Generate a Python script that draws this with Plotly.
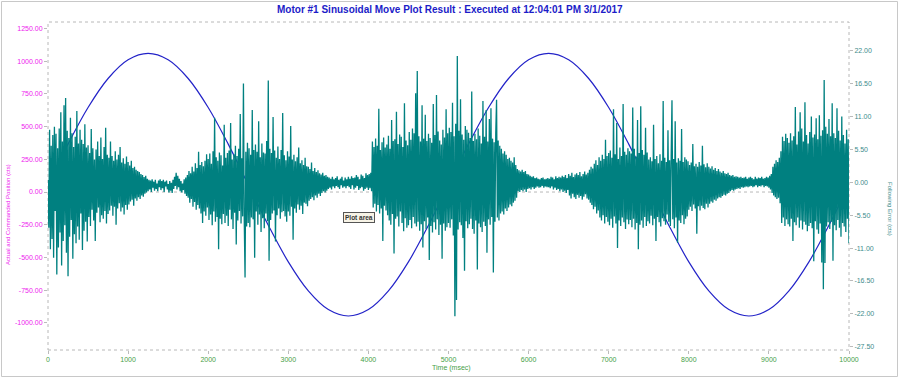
import numpy as np
import plotly.graph_objects as go

# Commanded / actual position (cts), sampled every 250 ms
pos_time = [0, 250, 500, 750, 1000, 1250, 1500, 1750, 2000, 2250, 2500, 2750, 3000, 3250, 3500,
            3750, 4000, 4250, 4500, 4750, 5000, 5250, 5500, 5750, 6000, 6250, 6500, 6750, 7000,
            7250, 7500, 7750, 8000, 8250, 8500, 8750, 9000, 9250, 9500, 9750, 10000]
position = [56, 366, 646, 868, 1011, 1060, 1011, 868, 646, 366, 56, -254, -534, -756, -899,
            -948, -899, -756, -534, -254, 56, 366, 646, 868, 1011, 1060, 1011, 868, 646,
            366, 56, -254, -534, -756, -899, -948, -899, -756, -534, -254, 56]

# Following error (cts), sampled every 10 ms (one row = 250 ms)
following_error = [
    0.4, -7.6, 8.8, -11.2, 6.1, -9.5, 7.9, -12.6, 9.3, -4.8, 8.1, -15.4, 5.7, -10.9, 9.0, -8.4, 11.7, -13.9, 6.8, -9.8, 12.9, -7.2, 14.1, -11.8, 8.6,
    -15.7, 7.4, -9.1, 10.8, -6.3, 8.2, -12.8, 5.9, -8.7, 7.6, -10.2, 11.9, -7.4, 6.5, -9.6, 8.8, -5.2, 7.1, -11.3, 6.4, -8.1, 9.7, -6.6, 5.8, -9.9,
    6.2, -5.8, 4.9, -7.3, 8.9, -4.6, 5.7, -6.4, 3.8, -9.8, 5.5, -5.1, 6.8, -4.2, 4.4, -6.7, 7.5, -5.5, 3.9, -6.1, 5.9, -4.8, 9.1, -6.9, 4.6,
    -5.3, 4.1, -4.7, 6.8, -3.9, 4.4, -5.6, 3.6, -4.1, 5.2, -7.1, 3.8, -4.4, 4.6, -3.5, 5.9, -4.9, 3.3, -4.2, 4.0, -5.4, 3.1, -3.8, 4.3, -4.6,
    3.4, -3.7, 2.8, -3.2, 3.6, -2.9, 2.4, -3.9, 2.6, -2.7, 2.1, -3.1, 1.9, -2.5, 1.7, -2.8, 1.4, -2.2, 1.2, -2.4, 0.9, -1.9, 1.1, -1.7, 0.6,
    -1.5, 0.4, -1.2, 0.3, -1.6, 0.5, -0.9, 0.1, -1.4, 0.4, -1.1, -0.2, -1.5, 0.3, -0.8, 0.5, -1.3, 0.2, -1.0, 0.4, -1.6, 0.1, -0.7, 0.3, -1.2,
    -0.3, -1.7, 0.2, -1.4, -0.1, -1.8, 0.4, -1.1, 0.9, -0.6, 1.6, -1.2, 1.1, -0.8, 0.6, -1.5, 0.2, -1.7, -0.2, -1.3, 0.5, -1.9, 0.8, -2.3, 1.2,
    -2.6, 1.9, -3.4, 1.5, -2.8, 2.6, -4.1, 1.8, -3.3, 3.2, -4.6, 2.4, -3.8, 5.1, -4.4, 2.9, -5.2, 3.4, -6.8, 2.7, -4.9, 3.6, -5.6, 4.7, -4.2,
    3.9, -6.3, 4.8, -5.4, 3.1, -7.2, 5.2, -4.9, 10.8, -6.6, 4.2, -5.8, 3.6, -11.2, 5.0, -6.1, 4.5, -7.0, 2.8, -5.3, 9.6, -6.8, 4.1, -5.6, 4.9,
    -7.3, 5.3, -4.6, 9.9, -6.2, 3.8, -7.8, 4.7, -5.1, 6.1, -10.4, 4.4, -6.4, 5.6, -4.8, 11.4, -6.9, 4.0, -5.7, 16.5, -6.3, -15.9, 5.1, -7.4, 6.6,
    -6.8, 5.7, -7.5, 4.6, -5.9, 12.1, -6.2, 5.4, -12.6, 6.3, -4.9, 5.1, -7.1, 10.2, -5.4, 4.2, -8.3, 6.5, -6.0, 5.0, -7.7, 4.8, -5.2, 6.9, -6.5,
    17.0, -13.1, 5.6, -6.3, 4.9, -5.2, 10.9, -4.7, 5.3, -9.9, 4.1, -5.5, 6.0, -4.4, 3.9, -6.1, 5.4, -5.0, 11.6, -4.8, 4.5, -5.7, 3.7, -6.6, 5.2,
    -4.9, 4.3, -5.6, 9.4, -4.1, 3.8, -9.6, 4.6, -4.4, 3.5, -5.1, 4.2, -3.7, 5.8, -4.6, 3.2, -3.9, 3.7, -5.3, 2.9, -3.4, 4.1, -3.6, 2.7, -4.0,
    2.6, -3.1, 2.2, -2.8, 3.3, -2.5, 1.9, -3.0, 2.4, -2.2, 1.7, -2.6, 2.0, -1.9, 1.5, -2.3, 1.3, -1.8, 1.6, -1.5, 1.1, -1.7, 1.2, -1.4, 0.9,
    -1.1, 0.8, -0.9, 0.6, -1.2, 0.9, -0.7, 0.5, -1.0, 0.7, -0.6, 1.0, -0.8, 0.4, -1.1, 0.6, -0.5, 0.9, -0.9, 0.3, -0.7, 0.8, -1.0, 0.5, -0.6,
    0.9, -0.8, 0.6, -1.1, 1.0, -0.5, 0.7, -1.2, 0.8, -0.9, 1.2, -0.6, 0.9, -1.3, 0.5, -1.0, 1.3, -0.8, 1.1, -1.4, 0.7, -1.1, 1.5, -0.9, 1.2,
    -1.3, 1.4, -1.0, 1.6, -1.5, 6.8, -4.2, 5.9, -3.6, 7.3, -4.9, 6.1, -3.8, 12.3, -5.2, 5.4, -4.4, 6.7, -9.8, 7.5, -3.9, 5.8, -4.7, 6.3, -5.5,
    7.8, -6.4, 5.6, -7.1, 10.4, -5.3, 6.9, -11.9, 7.2, -6.1, 11.8, -5.7, 6.4, -7.4, 8.0, -4.9, 7.6, -6.8, 5.9, -8.2, 13.2, -6.0, 7.0, -7.6, 6.2,
    -7.2, 8.4, -6.3, 7.1, -7.7, 9.0, -5.8, 8.2, -6.9, 14.9, -7.4, 18.6, -6.6, 7.7, -8.1, 6.8, -7.0, 12.9, -10.9, 7.3, -6.5, 11.3, -7.8, 6.9, -5.9,
    8.1, -13.0, 7.4, -7.3, 6.6, -8.4, 13.1, -6.7, 7.9, -7.9, 14.6, -6.2, 8.5, -8.8, 7.0, -7.1, 6.3, -12.8, 8.8, -6.9, 7.5, -8.1, 12.2, -7.5, 8.2,
    -6.8, 9.1, -7.6, 8.4, -6.2, 13.3, -8.9, 7.7, -22.4, 9.8, -19.7, 21.1, -7.9, 8.6, -6.7, 13.9, -7.2, 8.0, -9.3, 7.1, -14.8, 9.4, -6.5, 8.8, -7.7,
    8.3, -7.0, 7.4, -6.1, 15.2, -7.8, 6.9, -8.6, 8.1, -6.4, 7.2, -14.6, 9.0, -6.9, 7.8, -7.5, 6.5, -8.3, 13.6, -6.6, 7.6, -7.3, 12.1, -11.8, 6.8,
    -6.2, 10.6, -7.1, 12.4, -5.8, 7.3, -15.1, 6.7, -6.6, 8.2, 13.8, -5.9, 7.0, -6.4, 6.1, -5.2, 5.6, -4.9, 4.8, -5.4, 5.2, -4.4, 4.6, -4.8, 3.9,
    -4.2, 4.1, -3.7, 3.6, -4.0, 3.3, -3.4, 4.2, -3.1, 2.9, -2.6, 2.2, -1.5, 2.0, -1.6, 1.8, -1.3, 2.1, -1.5, 1.7, -1.2, 1.9, -1.6, 1.4, -1.1,
    1.3, -1.0, 1.1, -1.2, 0.9, -0.8, 1.0, -1.1, 0.7, -0.9, 0.8, -0.7, 0.6, -0.9, 0.5, -0.8, 0.7, -0.6, 0.8, -0.9, 0.5, -0.7, 0.6, -0.8, 0.7,
    -0.8, 0.6, -1.0, 0.9, -0.7, 0.8, -1.2, 0.5, -0.9, 1.0, -1.3, 0.7, -1.1, 0.9, -1.5, 0.8, -1.2, 1.1, -1.6, 0.9, -1.4, 1.2, -1.8, 0.7, -1.3,
    1.4, -2.2, 1.1, -2.7, 1.6, -1.9, 0.9, -2.5, 1.3, -2.8, 1.5, -2.1, 1.2, -2.6, 1.7, -2.3, 1.0, -2.9, 1.4, -2.4, 1.8, -2.0, 1.3, -2.7, 1.6,
    -2.9, 2.1, -3.4, 2.6, -3.8, 2.3, -4.5, 3.1, -4.1, 3.7, -5.2, 2.9, -4.7, 4.2, -5.9, 3.6, -6.4, 4.6, -5.5, 3.9, -6.9, 7.1, -5.8, 4.4, -6.6,
    4.9, -7.2, 5.3, -6.1, 4.1, -7.6, 12.2, -5.7, 4.7, -6.9, 9.9, -11.0, 3.9, -6.4, 5.8, -7.3, 4.4, -5.9, 13.1, -6.7, 5.1, -7.8, 4.6, -6.2, 5.7,
    -7.0, 5.2, -6.3, 4.8, -7.5, 12.5, -6.1, 5.6, -7.9, 4.3, -6.8, 10.4, -11.2, 4.9, -7.1, 12.7, -6.4, 5.4, -7.6, 4.6, -5.8, 9.1, -7.3, 5.0, -6.5,
    3.8, -6.9, 4.2, -5.6, 3.5, -7.2, 9.6, -6.1, 3.9, -9.8, 4.4, -5.8, 3.2, -6.7, 4.7, -7.4, 3.6, -6.0, 13.6, -6.5, 4.1, -7.1, 3.4, -5.4, 8.7,
    -6.6, 3.7, -7.3, 4.3, 13.7, -6.2, 3.9, -7.7, 10.2, -5.9, 3.3, -10.1, 4.0, -6.4, 3.6, -6.8, 8.9, -5.5, 3.4, -7.0, 4.2, -6.1, 3.8, -5.7, 3.5,
    -4.6, 2.9, -4.1, 3.3, -4.8, 6.4, -3.7, 2.7, -4.4, 3.1, -8.6, 2.6, -4.0, 3.4, -4.7, 2.8, -3.9, 6.1, -4.3, 3.0, -4.5, 2.5, -3.6, 3.2, -4.2,
    2.6, -3.6, 2.3, -3.2, 2.7, -3.4, 2.1, -2.9, 2.4, -3.1, 1.9, -2.7, 2.2, -2.5, 1.8, -2.6, 1.6, -2.3, 1.9, -2.1, 1.5, -2.2, 1.4, -1.9, 1.6,
    -1.8, 1.2, -1.5, 1.1, -1.3, 1.2, -1.4, 0.9, -1.2, 1.0, -1.1, 0.9, -1.0, 0.8, -1.1, 0.9, -0.8, 0.7, -0.9, 0.8, -0.8, 0.9, -0.7, 0.6, -0.8,
    0.8, -0.7, 0.9, -0.6, 0.7, -0.8, 0.5, -0.7, 0.9, -0.5, 0.6, -0.8, 0.8, -0.6, 0.7, -0.7, 0.9, -0.5, 0.6, -0.8, 0.7, -0.6, 0.9, -0.7, 0.8,
    -0.9, 1.1, -1.2, 1.4, -1.8, 2.6, -2.2, 3.1, -2.5, 3.7, -2.8, 3.4, -2.6, 4.1, -3.5, 5.2, -6.8, 7.6, -5.9, 6.9, -7.3, 8.1, -6.2, 7.4, -7.0,
    6.6, -7.4, 8.2, -6.1, 7.0, -9.8, 7.7, -6.7, 12.6, -7.2, 6.3, -5.9, 8.5, -7.6, 11.7, -6.4, 9.0, -7.9, 6.8, -6.6, 13.4, -7.1, 7.9, -8.2, 6.5,
    -7.3, 8.4, -6.8, 11.0, -7.7, 7.5, -13.2, 8.0, -6.5, 10.7, -7.9, 7.2, -8.6, 11.2, -6.9, 7.8, -13.4, 8.7, -17.9, 17.1, -13.5, 9.3, -7.4, 8.1, -6.7,
    10.6, -7.8, 7.7, -6.6, 13.2, -13.1, 8.2, -7.2, 7.4, -8.0, 12.4, -6.3, 8.6, -7.6, 7.0, -9.1, 11.0, -6.8, 7.9, -7.4, 6.5, -8.3, 8.8, -6.1, 7.2,
    -10.2,
]
fe_time = np.linspace(0, 10000, len(following_error))

left_ticks = [-1000, -750, -500, -250, 0, 250, 500, 750, 1000, 1250]
right_ticks = [-27.5, -22, -16.5, -11, -5.5, 0, 5.5, 11, 16.5, 22]
x_ticks = [0, 1000, 2000, 3000, 4000, 5000, 6000, 7000, 8000, 9000, 10000]

title_text = "Motor #1 Sinusoidal Move Plot Result : Executed at 12:04:01 PM 3/1/2017"

FONT = "Liberation Sans, Arial, sans-serif"
MAGENTA = "#ee22ee"
TEAL_TXT = "#3e8c8c"
GREEN = "#46a046"

fig = go.Figure()
fig.add_trace(go.Scatter(x=pos_time, y=position, mode="lines", line=dict(color="#2323c8", width=1.2, shape="spline"),
                         name="Commanded Position", yaxis="y"))
fig.add_trace(go.Scatter(x=fe_time, y=following_error, mode="lines",
                         line=dict(color="#008080", width=1.3, simplify=False),
                         name="Following Error", yaxis="y2"))

L, R, T, B = 48, 53, 22, 28
W, H = 902, 378
pw, ph = W - L - R, H - T - B

def px(xp):
    return (xp - L) / pw

def py(yp):
    return (H - B - yp) / ph

fig.update_layout(
    width=W, height=H,
    margin=dict(l=L, r=R, t=T, b=B),
    paper_bgcolor="white", plot_bgcolor="white",
    showlegend=False,
    font=dict(family=FONT, size=7),
    xaxis=dict(range=[0, 10000], tickvals=x_ticks, ticktext=[str(v) for v in x_ticks],
               showgrid=False, zeroline=False, showline=False,
               ticks="outside", ticklen=3, tickcolor="#bbbbbb",
               tickfont=dict(color=GREEN, size=7, family=FONT)),
    yaxis=dict(range=[-1208, 1300], tickvals=left_ticks, ticktext=[f"{v:.2f}" for v in left_ticks],
               showgrid=False, zeroline=False, showline=False,
               ticks="outside", ticklen=3, tickcolor="#bbbbbb",
               tickfont=dict(color=MAGENTA, size=7, family=FONT)),
    yaxis2=dict(range=[-28.04, 26.8], tickvals=right_ticks, ticktext=[f"{v:.2f}" for v in right_ticks],
                overlaying="y", side="right",
                showgrid=False, zeroline=False, showline=False,
                ticks="outside", ticklen=3, tickcolor="#bbbbbb",
                tickfont=dict(color=TEAL_TXT, size=7, family=FONT)),
    shapes=[
        dict(type="rect", xref="paper", yref="paper", x0=0, x1=1, y0=0, y1=1,
             line=dict(color="#b8b8b8", width=1, dash="dot"), layer="below"),
        dict(type="line", xref="paper", yref="y", x0=0, x1=1, y0=0, y1=0,
             line=dict(color="#b8b8b8", width=1, dash="dot"), layer="below"),
        dict(type="rect", xref="paper", yref="paper", x0=px(1.5), x1=px(897.5), y0=py(376.5), y1=py(1.5),
             line=dict(color="#c8c8c8", width=1), layer="below"),
    ],
    annotations=[
        dict(text=f"<b>{title_text}</b>", xref="paper", yref="paper", x=px(450), y=py(10),
             xanchor="center", yanchor="middle", showarrow=False,
             font=dict(family=FONT, size=10, color="#1c1cc8")),
        dict(text="Actual and Commanded Position (cts)", xref="paper", yref="paper", x=px(8), y=py(215),
             xanchor="center", yanchor="middle", showarrow=False, textangle=-90,
             font=dict(family=FONT, size=6, color=MAGENTA)),
        dict(text="Following Error (cts)", xref="paper", yref="paper", x=px(890), y=py(209),
             xanchor="center", yanchor="middle", showarrow=False, textangle=90,
             font=dict(family=FONT, size=6, color=TEAL_TXT)),
        dict(text="Time (msec)", xref="paper", yref="paper", x=px(451), y=py(368),
             xanchor="center", yanchor="middle", showarrow=False,
             font=dict(family=FONT, size=7, color=GREEN)),
        dict(text="<b>Plot area</b>", xref="x", yref="y", x=3887, y=-191,
             xanchor="center", yanchor="middle", showarrow=False,
             bgcolor="#f7f3e6", bordercolor="#555555", borderwidth=1, borderpad=1,
             font=dict(family=FONT, size=6.5, color="#333333")),
    ],
)

fig.write_html("out.html", config={"displayModeBar": False},
               post_script="document.body.style.margin='0px';document.body.style.overflow='hidden';")
